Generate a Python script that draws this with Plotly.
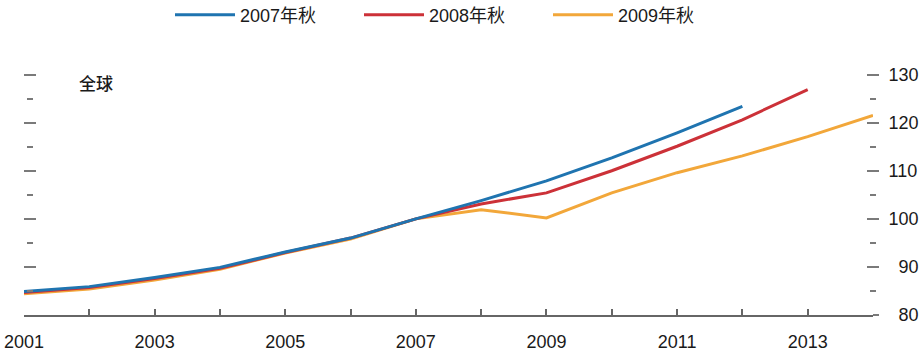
import plotly.graph_objects as go

years = list(range(2001, 2015))

# 2007年秋 (2001-2012)
fall2007_years = list(range(2001, 2013))
fall2007 = [84.9, 85.9, 87.8, 89.9, 93.1, 96.0, 100.0, 103.8, 107.9, 112.7, 117.9, 123.4]

# 2008年秋 (2001-2013)
fall2008_years = list(range(2001, 2014))
fall2008 = [84.7, 85.7, 87.6, 89.7, 93.0, 96.0, 100.0, 103.1, 105.4, 110.0, 115.1, 120.6, 126.9]

# 2009年秋 (2001-2014)
fall2009_years = list(range(2001, 2015))
fall2009 = [84.4, 85.4, 87.3, 89.5, 92.9, 95.8, 100.0, 101.9, 100.2, 105.4, 109.6, 113.1, 117.1, 121.5]

series_names = ["2007年秋", "2008年秋", "2009年秋"]
colors = ["#1f74b0", "#cc3138", "#f2a73a"]

x_tick_vals = years
x_tick_text = [str(y) if y % 2 == 1 else "" for y in years]

y_tick_vals = [80, 90, 100, 110, 120, 130]
FS = "\u2007"
y_tick_text = [FS + "80", FS + "90", "100", "110", "120", "130"]
y_major_marks = [90, 100, 110, 120, 130]
y_minor_marks = [85, 95, 105, 115, 125]

panel_label = "全球"

FONT = "Liberation Sans, Arial, Noto Sans CJK SC, sans-serif"
TICK_COLOR = "#7a7a7a"
AXIS_COLOR = "#666666"
YRANGE = [80, 132]

fig = go.Figure()
# draw order: 2009 bottom, 2007 on top
for yrs, vals, name, col, rank in [
    (fall2009_years, fall2009, series_names[2], colors[2], 3),
    (fall2008_years, fall2008, series_names[1], colors[1], 2),
    (fall2007_years, fall2007, series_names[0], colors[0], 1),
]:
    fig.add_trace(go.Scatter(x=yrs, y=vals, mode="lines", name=name,
                             line=dict(color=col, width=3), legendrank=rank))

# invisible carriers so the overlaid tick axes get drawn
for ax in ["y2", "y3", "y4"]:
    fig.add_trace(go.Scatter(x=fall2009_years, y=fall2009, yaxis=ax, mode="lines",
                             line=dict(width=0, color="rgba(0,0,0,0)"),
                             showlegend=False, hoverinfo="skip"))

PLOT_W = 849
left_pos = (30 - 24) / PLOT_W
right_pos = (873 - 1 - 24) / PLOT_W

def tick_axis(ticks, **kw):
    d = dict(range=YRANGE, showgrid=False, zeroline=False, showline=False,
             tickvals=y_major_marks, ticks=ticks, ticklen=6, tickwidth=2,
             tickcolor=TICK_COLOR,
             minor=dict(tickvals=y_minor_marks, ticks=ticks, ticklen=3,
                        tickwidth=2, tickcolor=TICK_COLOR))
    d.update(kw)
    return d

fig.update_layout(
    width=919, height=356,
    margin=dict(l=24, r=46, t=65, b=41, autoexpand=False),
    paper_bgcolor="white", plot_bgcolor="white",
    font=dict(family=FONT, size=18, color="#1a1a1a"),
    showlegend=True,
    legend=dict(orientation="h", xref="container", yref="container",
                x=170 / 919, y=1 - 15 / 356, xanchor="left", yanchor="middle",
                font=dict(size=18, family="Liberation Sans, Noto Sans CJK SC"),
                itemwidth=60, entrywidth=114, bgcolor="rgba(0,0,0,0)"),
    xaxis=dict(range=[2001, 2014], showgrid=False, zeroline=False,
               showline=True, linecolor=AXIS_COLOR, linewidth=1.5,
               ticks="inside", ticklen=6, tickwidth=1.5, tickcolor=AXIS_COLOR,
               tickvals=x_tick_vals, ticktext=x_tick_text,
               ticklabelstandoff=10, tickfont=dict(size=18)),
    yaxis=tick_axis("outside", anchor="free", position=left_pos, side="left",
                    showticklabels=False),
    yaxis3=tick_axis("inside", overlaying="y", anchor="free",
                     position=left_pos - 1 / PLOT_W, side="left",
                     showticklabels=False),
    yaxis2=tick_axis("outside", overlaying="y", side="right", anchor="free",
                     position=right_pos,
                     tickvals=y_tick_vals, ticktext=y_tick_text,
                     ticklabelstandoff=6, tickfont=dict(size=18)),
    yaxis4=tick_axis("inside", overlaying="y", side="right", anchor="x",
                     showticklabels=False),
)

fig.add_annotation(x=2002.1, y=128.3, xref="x", yref="y", text=panel_label,
                   showarrow=False,
                   font=dict(size=17, family="Noto Sans CJK SC", color="#1a1a1a",
                             weight=500))

fig.write_html("out.html", config={"displayModeBar": False},
               post_script="document.body.style.margin='0';document.body.style.overflow='hidden';")
